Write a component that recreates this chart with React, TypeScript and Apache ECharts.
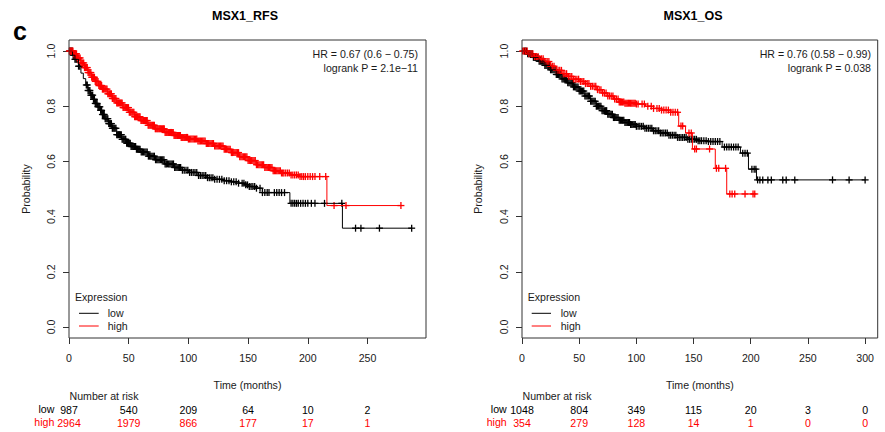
import React, { useEffect, useRef } from 'react';
import * as echarts from 'echarts';

const FONT = '"Liberation Sans", Arial, Helvetica, sans-serif';
const FS = 10.6;
const INK = '#1a1a1a';
const RED = '#ff0000';

// ---- tick labels / risk table ----
const rfsTicks = [0, 50, 100, 150, 200, 250];
const osTicks = [0, 50, 100, 150, 200, 250, 300];
const yTicks = [0, 0.2, 0.4, 0.6, 0.8, 1.0];
const rfsRiskLow = [987, 540, 209, 64, 10, 2];
const rfsRiskHigh = [2964, 1979, 866, 177, 17, 1];
const osRiskLow = [1048, 804, 349, 115, 20, 3, 0];
const osRiskHigh = [354, 279, 128, 14, 1, 0, 0];

// ---- MSX1_RFS, low expression (step curve: time, survival) ----
const rfsLowT = [0, 3, 5, 8, 10, 12, 14, 16, 18, 20, 22, 24, 26, 28, 30, 33, 36, 40, 44, 48, 52, 56, 60, 66, 72, 80, 88, 94, 100, 108, 115, 122, 130, 136, 142, 147, 151, 156, 162, 185, 229];
const rfsLowS = [1.0, 0.985, 0.97, 0.945, 0.92, 0.9, 0.877, 0.857, 0.84, 0.825, 0.81, 0.798, 0.785, 0.77, 0.755, 0.737, 0.72, 0.697, 0.68, 0.666, 0.654, 0.644, 0.634, 0.619, 0.606, 0.591, 0.578, 0.568, 0.56, 0.549, 0.541, 0.535, 0.53, 0.526, 0.521, 0.515, 0.509, 0.503, 0.487, 0.448, 0.358];
const rfsLowEnd = 287;
const rfsLowCens = [0.5, 1.3, 2, 2.8, 3.5, 4.3, 5, 5.8, 6.5, 7.3, 8, 9, 14.5, 15.3, 16, 16.8, 17.5, 18.3, 19, 19.8, 20.5, 21.3, 22, 22.8, 23.5, 24.3, 25, 25.8, 26.5, 27.3, 28, 28.8, 29.5, 30.3, 31, 31.8, 32.5, 33.3, 34, 34.8, 35.5, 36.3, 37, 37.8, 38.5, 39.3, 40, 40.8, 41.5, 42.3, 43, 43.8, 44.5, 45.3, 46, 46.8, 47.5, 48.3, 49, 49.8, 50.5, 51.3, 52, 52.8, 53.5, 54.3, 55, 55.8, 56.5, 57.3, 58, 58.8, 59.5, 60.5, 61.5, 62.5, 63.5, 64.5, 65.5, 66.5, 67.5, 68.5, 69.5, 70.5, 71.5, 72.5, 73.5, 74.5, 75.5, 76.5, 77.5, 78.5, 79.5, 80.5, 81.5, 82.5, 83.5, 84.5, 85.5, 86.5, 87.5, 88.5, 89.5, 90.5, 91.5, 92.5, 93.5, 95, 96.5, 98, 99.5, 101, 102.5, 104, 105.5, 107, 108.5, 110, 111.5, 113, 114.5, 116, 117.5, 119, 120.5, 122, 124, 126, 128, 130, 132, 134, 136, 138, 140, 142, 145, 146.5, 148, 149.5, 151, 152.5, 154, 155.5, 157, 160, 162, 164, 166, 167.5, 172, 174, 176, 178, 180.5, 186, 187.5, 189, 190.5, 192, 194, 196, 198, 200, 203, 206, 214, 228.5, 240, 244.5, 260, 287];

// ---- MSX1_RFS, high expression ----
const rfsHighT = [0, 4, 7, 10, 13, 16, 19, 22, 25, 28, 32, 36, 40, 45, 50, 55, 60, 66, 72, 80, 88, 94, 100, 108, 115, 122, 130, 136, 143, 150, 157, 164, 171, 178, 185, 193, 216];
const rfsHighS = [1.0, 0.99, 0.975, 0.957, 0.94, 0.922, 0.905, 0.89, 0.875, 0.862, 0.845, 0.828, 0.812, 0.795, 0.778, 0.762, 0.748, 0.731, 0.718, 0.705, 0.694, 0.687, 0.681, 0.674, 0.665, 0.656, 0.644, 0.632, 0.617, 0.603, 0.588, 0.578, 0.566, 0.558, 0.551, 0.545, 0.44];
const rfsHighEnd = 278;
const rfsHighCens = [0.3, 1, 1.8, 2.6, 3.3, 4, 4.8, 5.5, 6.3, 7, 7.8, 8.5, 9.3, 10, 10.8, 11.5, 12.3, 13, 13.8, 14.5, 15.3, 16, 16.8, 17.5, 18.3, 19, 19.8, 20.5, 21.3, 22, 22.8, 23.5, 24.3, 25, 25.8, 26.5, 27.3, 28, 28.8, 29.5, 30.3, 31, 31.8, 32.5, 33.3, 34, 34.8, 35.5, 36.3, 37, 37.8, 38.5, 39.3, 40, 40.8, 41.5, 42.3, 43, 43.8, 44.5, 45.3, 46, 46.8, 47.5, 48.3, 49, 49.8, 50.5, 51.3, 52, 52.8, 53.5, 54.3, 55, 55.8, 56.5, 57.3, 58, 58.8, 59.5, 60.3, 61, 61.8, 62.5, 63.3, 64, 64.8, 65.5, 66.3, 67, 67.8, 68.5, 69.3, 70, 70.8, 71.5, 72.3, 73, 73.8, 74.5, 75.3, 76, 76.8, 77.5, 78.3, 79, 79.8, 80.5, 81.3, 82, 82.8, 83.5, 84.3, 85, 85.8, 86.5, 87.3, 88, 88.8, 89.5, 90.3, 91, 91.8, 92.5, 93.3, 94, 94.8, 95.5, 96.3, 97, 97.8, 98.5, 99.3, 100, 101, 102, 103, 104, 105, 106, 107, 108, 109, 110, 111, 112, 113, 114, 115, 116, 117, 118, 119, 120, 121, 122, 123, 124, 125, 126, 127, 128, 129, 130, 131, 132, 133, 134, 135, 136, 137, 138, 139, 140, 141, 142, 143, 144, 145, 146, 147, 148, 149, 150, 151, 152, 153, 154, 155, 156, 157, 158, 159, 160, 161, 162, 163, 164, 165, 166, 167, 168, 169, 170, 171, 172, 173, 174, 175, 176, 177, 178, 179, 180, 181.5, 183, 184.5, 186, 187.5, 189, 190.5, 192, 193.5, 195, 196.5, 198, 200, 202, 204, 206, 210, 215, 222, 232, 278];

// ---- MSX1_OS, low expression ----
const osLowT = [0, 5, 10, 15, 20, 25, 30, 35, 40, 45, 50, 55, 60, 65, 70, 75, 80, 85, 90, 95, 100, 107, 114, 121, 128, 136, 145, 154, 162, 175, 191, 198, 205];
const osLowS = [1.0, 0.99, 0.977, 0.963, 0.948, 0.932, 0.915, 0.899, 0.885, 0.87, 0.855, 0.837, 0.818, 0.8, 0.784, 0.771, 0.759, 0.749, 0.741, 0.734, 0.727, 0.72, 0.711, 0.703, 0.695, 0.687, 0.68, 0.675, 0.672, 0.652, 0.63, 0.572, 0.533];
const osLowEnd = 300;
const osLowCens = [2, 3, 4, 5, 6, 7, 8, 9, 10, 11, 12, 13, 14, 15, 16, 17, 18, 19, 20, 21, 22, 23, 24, 25, 26, 27, 28, 29, 30, 31, 32, 33, 34, 35, 36, 37, 38, 39, 40, 41, 42, 43, 44, 45, 46, 47, 48, 49, 50, 51, 52, 53, 54, 55, 56, 57, 58, 59, 60, 61, 62, 63, 64, 65, 66, 67, 68, 69, 70, 71, 72, 73, 74, 75, 76, 77, 78, 79, 80, 81, 82, 83, 84, 85, 86, 87, 88, 89, 90, 91, 92, 93, 94, 95, 96, 97, 98, 99, 100, 101.5, 103, 104.5, 106, 107.5, 109, 110.5, 112, 113.5, 115, 116.5, 118, 119.5, 121, 122.5, 124, 125.5, 127, 128.5, 130, 131.5, 133, 134.5, 136, 137.5, 139, 140.5, 142, 143.5, 145, 146.5, 148, 149.5, 151, 152.5, 154, 155.5, 157, 159, 161, 163, 165, 167, 169, 171, 173, 177, 179, 181, 183, 185, 187, 189, 193, 195, 197, 201, 203, 204.5, 206, 208, 210.5, 215, 218, 228, 231, 238.5, 271.5, 286, 300];

// ---- MSX1_OS, high expression ----
const osHighT = [0, 5, 10, 15, 20, 25, 30, 35, 40, 45, 50, 55, 60, 65, 70, 75, 80, 85, 90, 100, 108, 115, 122, 130, 137, 143, 149, 169, 179];
const osHighS = [1.0, 0.99, 0.98, 0.972, 0.962, 0.945, 0.93, 0.918, 0.908, 0.898, 0.89, 0.882, 0.872, 0.86, 0.848, 0.837, 0.826, 0.815, 0.811, 0.808, 0.8, 0.792, 0.786, 0.778, 0.728, 0.703, 0.645, 0.575, 0.482];
const osHighEnd = 203.5;
const osHighCens = [0.5, 1.5, 3, 4.5, 6, 8, 9.5, 11, 12.5, 14, 15.5, 17, 18.5, 20, 22, 23.5, 25, 26.5, 28, 30, 31.5, 33, 34.5, 36, 37.5, 39, 40.5, 42, 43.5, 45, 46.5, 48, 49.5, 51, 52.5, 54, 55.5, 57, 58.5, 60, 61.5, 63, 64.5, 66, 67.5, 69, 70.5, 72, 73.5, 75, 76.5, 78, 79.5, 81, 82.5, 84, 85, 86, 87, 88, 89, 90, 91, 92, 93, 94, 95, 96, 97, 98, 99, 100, 101.5, 105, 107, 110, 113, 115, 118, 120, 122, 124, 126, 128, 130, 132, 134, 136, 139, 140.5, 146, 148, 151, 152.5, 164, 170, 172, 178, 181.7, 183.7, 186, 195, 202, 203.5];

function survAt(T: number[], S: number[], t: number) {
  let v = S[0];
  for (let i = 0; i < T.length; i++) if (T[i] <= t) v = S[i];
  return v;
}

function stepData(T: number[], S: number[], end: number) {
  const d = T.map((t, i) => [t, S[i]]);
  d.push([end, S[S.length - 1]]);
  return d;
}

function lineSeries(T: number[], S: number[], end: number, color: string, g: number) {
  return {
    type: 'line',
    xAxisIndex: g,
    yAxisIndex: g,
    step: 'end',
    symbol: 'none',
    data: stepData(T, S, end),
    lineStyle: { color, width: 1 },
    silent: true,
  };
}

function censSeries(T: number[], S: number[], cens: number[], color: string, g: number) {
  return {
    type: 'custom',
    coordinateSystem: 'cartesian2d',
    xAxisIndex: g,
    yAxisIndex: g,
    encode: { x: 0, y: 1 },
    data: cens.map((t) => [t, survAt(T, S, t)]),
    silent: true,
    renderItem: (_p: any, api: any) => {
      const p = api.coord([api.value(0), api.value(1)]);
      const h = 3.5;
      return {
        type: 'group',
        children: [
          { type: 'line', shape: { x1: p[0] - h, y1: p[1], x2: p[0] + h, y2: p[1] }, style: { stroke: color, lineWidth: 1.3 } },
          { type: 'line', shape: { x1: p[0], y1: p[1] - h, x2: p[0], y2: p[1] + h }, style: { stroke: color, lineWidth: 1.3 } },
        ],
      };
    },
  };
}

const L = { left: 69, top: 40, width: 357, height: 298, max: 299 };
const R = { left: 522, top: 40, width: 355.7, height: 298, max: 311 };

function mainX(g: number, P: any, ticks: number[]) {
  return {
    type: 'value', gridIndex: g, min: 0, max: P.max,
    axisLine: { show: false, onZero: false }, splitLine: { show: false },
    axisTick: { show: true, inside: false, length: 6, customValues: ticks, lineStyle: { color: '#333' } },
    axisLabel: { customValues: ticks, fontSize: FS, color: INK, fontFamily: FONT, margin: 14 },
    name: 'Time (months)', nameLocation: 'middle', nameGap: 41,
    nameTextStyle: { fontSize: FS, color: INK, fontFamily: FONT },
  };
}

function mainY(g: number, gap: number) {
  return {
    type: 'value', gridIndex: g, min: -0.04, max: 1.04,
    axisLine: { show: false, onZero: false }, splitLine: { show: false },
    axisTick: { show: true, inside: false, length: 6, customValues: yTicks, lineStyle: { color: '#333' } },
    axisLabel: { customValues: yTicks, rotate: 90, fontSize: FS, color: INK, fontFamily: FONT, margin: 13, formatter: (v: number) => v.toFixed(1) },
    name: 'Probability', nameLocation: 'middle', nameGap: gap, nameRotate: 90,
    nameTextStyle: { fontSize: FS, color: INK, fontFamily: FONT },
  };
}

function riskX(g: number, P: any, ticks: number[], counts: number[], color: string) {
  return {
    type: 'value', gridIndex: g, min: 0, max: P.max,
    axisLine: { show: false, onZero: false }, splitLine: { show: false }, axisTick: { show: false },
    axisLabel: {
      customValues: ticks, fontSize: FS, color, fontFamily: FONT, margin: 0,
      formatter: (v: number) => String(counts[ticks.indexOf(v)]),
    },
  };
}

function txt(text: string, x: number, y: number, align: string, extra: any = {}) {
  return {
    type: 'text', x, y, silent: true,
    style: { text, align, verticalAlign: 'middle', fontSize: FS, fontFamily: FONT, fill: INK, ...extra },
  };
}

function hline(x1: number, x2: number, y: number, color: string) {
  return { type: 'line', silent: true, shape: { x1, y1: y, x2, y2: y }, style: { stroke: color, lineWidth: 1 } };
}

function box(P: any) {
  return {
    type: 'rect', silent: true, z: 10,
    shape: { x: P.left, y: P.top, width: P.width, height: P.height },
    style: { fill: 'none', stroke: '#333', lineWidth: 1 },
  };
}

export default function App() {
  const ref = useRef<HTMLDivElement>(null);
  useEffect(() => {
    const chart = echarts.init(ref.current!, null, { renderer: 'svg' });
    const option: any = {
      animation: false,
      backgroundColor: '#fff',
      grid: [
        { left: L.left, top: L.top, width: L.width, height: L.height },
        { left: R.left, top: R.top, width: R.width, height: R.height },
        { left: L.left, top: 394, width: L.width, height: 10 },
        { left: L.left, top: 407, width: L.width, height: 10 },
        { left: R.left, top: 394, width: R.width, height: 10 },
        { left: R.left, top: 407, width: R.width, height: 10 },
      ],
      xAxis: [
        mainX(0, L, rfsTicks),
        mainX(1, R, osTicks),
        riskX(2, L, rfsTicks, rfsRiskLow, '#000'),
        riskX(3, L, rfsTicks, rfsRiskHigh, RED),
        riskX(4, R, osTicks, osRiskLow, '#000'),
        riskX(5, R, osTicks, osRiskHigh, RED),
      ],
      yAxis: [
        mainY(0, 38),
        mainY(1, 39),
        { type: 'value', gridIndex: 2, show: false },
        { type: 'value', gridIndex: 3, show: false },
        { type: 'value', gridIndex: 4, show: false },
        { type: 'value', gridIndex: 5, show: false },
      ],
      series: [
        lineSeries(rfsLowT, rfsLowS, rfsLowEnd, '#000', 0),
        censSeries(rfsLowT, rfsLowS, rfsLowCens, '#000', 0),
        lineSeries(rfsHighT, rfsHighS, rfsHighEnd, RED, 0),
        censSeries(rfsHighT, rfsHighS, rfsHighCens, RED, 0),
        lineSeries(osLowT, osLowS, osLowEnd, '#000', 1),
        censSeries(osLowT, osLowS, osLowCens, '#000', 1),
        lineSeries(osHighT, osHighS, osHighEnd, RED, 1),
        censSeries(osHighT, osHighS, osHighCens, RED, 1),
      ],
      graphic: [
        box(L),
        box(R),
        txt('c', 13, 30.5, 'left', { fontSize: 25, fontWeight: 'bold', fill: '#000' }),
        txt('MSX1_RFS', 245, 16, 'center', { fontSize: 12.5, fontWeight: 'bold', fill: '#000' }),
        txt('MSX1_OS', 693, 16, 'center', { fontSize: 12.5, fontWeight: 'bold', fill: '#000' }),
        txt('HR = 0.67 (0.6 \u2212 0.75)', 418, 54.3, 'right'),
        txt('logrank P = 2.1e\u221211', 418, 67.7, 'right'),
        txt('HR = 0.76 (0.58 \u2212 0.99)', 871, 54.3, 'right'),
        txt('logrank P = 0.038', 871, 67.7, 'right'),
        txt('Expression', 75, 297, 'left'),
        hline(79, 98.7, 313.3, '#000'),
        hline(79, 98.7, 326, RED),
        txt('low', 107.7, 313.3, 'left'),
        txt('high', 107.7, 326, 'left'),
        txt('Expression', 527.7, 297, 'left'),
        hline(531.7, 551, 313.3, '#000'),
        hline(531.7, 551, 326, RED),
        txt('low', 560.7, 313.3, 'left'),
        txt('high', 560.7, 326, 'left'),
        txt('Number at risk', 104, 395.7, 'center'),
        txt('low', 54.3, 409.3, 'right', { fill: '#000' }),
        txt('high', 54.3, 422.3, 'right', { fill: RED }),
        txt('Number at risk', 557, 395.7, 'center'),
        txt('low', 506.7, 409.3, 'right', { fill: '#000' }),
        txt('high', 506.7, 422.3, 'right', { fill: RED }),
      ],
    };
    chart.setOption(option);
    return () => chart.dispose();
  }, []);
  return <div ref={ref} style={{ position: 'absolute', left: 0, top: 0, width: 885, height: 432 }} />;
}
